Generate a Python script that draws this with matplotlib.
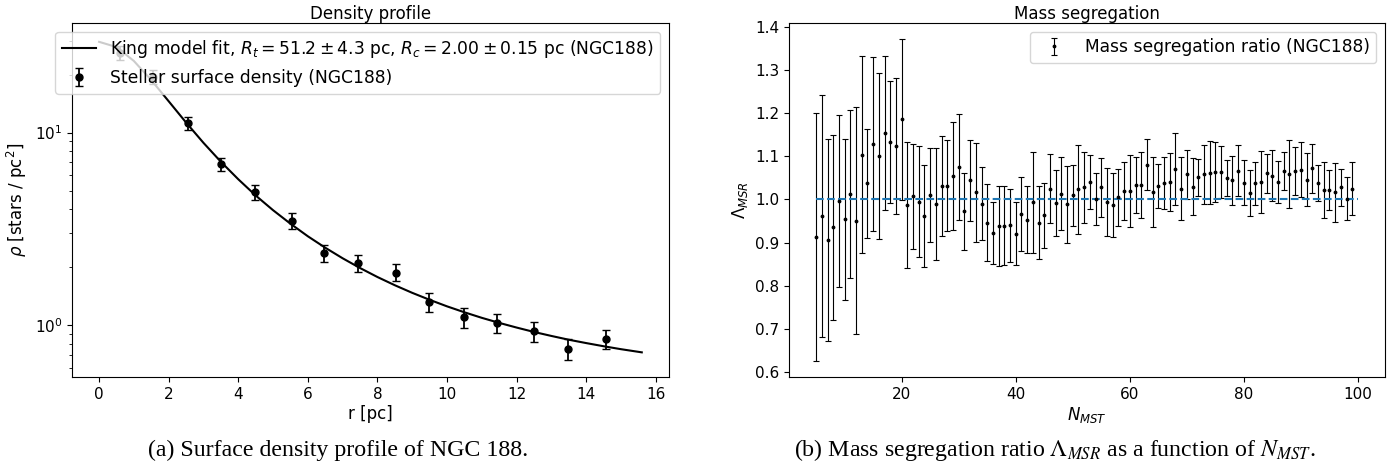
import numpy as np
import matplotlib
matplotlib.use("Agg")
import matplotlib.pyplot as plt

# --- density profile (left) ---
r_obs = [0.59, 1.55, 2.55, 3.51, 4.47, 5.54, 6.47, 7.43, 8.53, 9.49, 10.50, 11.45, 12.49, 13.47, 14.58]
rho_obs = [25.9, 19.4, 11.2, 6.84, 4.90, 3.49, 2.37, 2.11, 1.88, 1.32, 1.10, 1.03, 0.934, 0.753, 0.852]
rho_err = [2.1, 1.6, 0.90, 0.55, 0.43, 0.32, 0.24, 0.21, 0.19, 0.15, 0.13, 0.12, 0.11, 0.093, 0.10]

r_fit = [0.0, 0.5, 1.0, 1.5, 2.0, 2.5, 3.0, 3.5, 4.0, 4.5, 5.0, 5.5, 6.0, 6.5, 7.0, 7.5, 8.0,
         8.5, 9.0, 9.5, 10.0, 10.5, 11.0, 11.5, 12.0, 12.5, 13.0, 13.5, 14.0, 14.5, 15.0, 15.6]
rho_fit = [29.56, 27.78, 23.52, 18.72, 14.54, 11.28, 8.85, 7.06, 5.73, 4.72, 3.96, 3.37, 2.90,
           2.53, 2.23, 1.985, 1.783, 1.616, 1.476, 1.358, 1.256, 1.170, 1.095, 1.031, 0.975,
           0.925, 0.882, 0.843, 0.810, 0.780, 0.753, 0.725]

# --- mass segregation ratio (right) ---
n_mst = np.arange(5, 100)
msr = [0.913, 0.961, 0.905, 0.935, 0.996, 0.954, 1.012, 0.951, 1.103, 1.037,
       1.128, 1.100, 1.153, 1.133, 1.123, 1.185, 0.987, 1.007, 0.995, 0.962,
       1.011, 0.990, 1.031, 1.032, 1.054, 1.075, 0.972, 1.044, 1.016, 0.990,
       0.946, 0.922, 0.939, 0.939, 0.940, 0.921, 0.966, 0.953, 0.993, 0.946,
       0.963, 1.025, 0.991, 1.013, 0.989, 1.009, 1.024, 1.028, 1.040, 1.000,
       1.028, 0.994, 0.986, 1.005, 1.020, 1.019, 1.034, 1.034, 1.080, 1.016,
       1.031, 1.038, 1.041, 1.070, 1.025, 1.058, 1.029, 1.051, 1.058, 1.062,
       1.064, 1.064, 1.049, 1.044, 1.066, 1.039, 1.014, 1.037, 1.041, 1.060,
       1.055, 1.040, 1.065, 1.059, 1.066, 1.069, 1.046, 1.072, 1.038, 1.022,
       1.022, 1.016, 1.028, 1.002, 1.025]
msr_err = [0.287, 0.280, 0.234, 0.215, 0.200, 0.186, 0.195, 0.262, 0.228, 0.127,
           0.202, 0.192, 0.178, 0.141, 0.158, 0.186, 0.146, 0.122, 0.128, 0.118,
           0.109, 0.130, 0.115, 0.105, 0.125, 0.122, 0.089, 0.093, 0.115, 0.084,
           0.089, 0.072, 0.093, 0.091, 0.085, 0.074, 0.085, 0.078, 0.117, 0.085,
           0.076, 0.080, 0.076, 0.084, 0.089, 0.071, 0.103, 0.082, 0.062, 0.060,
           0.068, 0.079, 0.074, 0.066, 0.067, 0.083, 0.065, 0.076, 0.059, 0.081,
           0.050, 0.061, 0.067, 0.084, 0.073, 0.057, 0.066, 0.043, 0.069, 0.072,
           0.069, 0.060, 0.042, 0.056, 0.059, 0.053, 0.053, 0.050, 0.072, 0.045,
           0.059, 0.049, 0.044, 0.079, 0.056, 0.064, 0.061, 0.057, 0.042, 0.065,
           0.046, 0.068, 0.043, 0.049, 0.061]
ref_x = [5, 100]
ref_y = [1.0, 1.0]

plt.rcParams['font.size'] = 12
plt.rcParams['xtick.labelsize'] = 11
plt.rcParams['ytick.labelsize'] = 11

fig = plt.figure(figsize=(14, 4.74), dpi=100)
ax1 = fig.add_axes([0.0514, 0.2046, 0.4264, 0.7468])
ax2 = fig.add_axes([0.5636, 0.2046, 0.4257, 0.7468])

ax1.plot(r_fit, rho_fit, color='k', lw=1.5,
         label=r'King model fit, $R_t = 51.2 \pm 4.3$ pc, $R_c = 2.00 \pm 0.15$ pc (NGC188)')
ax1.errorbar(r_obs, rho_obs, yerr=rho_err, fmt='ko', ms=5, capsize=3, elinewidth=1.3,
             label='Stellar surface density (NGC188)')
ax1.set_yscale('log')
ax1.set_ylim(0.54, 37)
ax1.set_xlabel('r [pc]', labelpad=2)
ax1.set_ylabel(r'$\rho$ [stars / pc$^2$]')
ax1.set_title('Density profile', fontsize=12, pad=3)
ax1.legend(loc='upper right', fontsize=12.3)

ax2.errorbar(n_mst, msr, yerr=msr_err, fmt='k.', ms=3.5, capsize=2, elinewidth=0.8,
             capthick=0.8, label='Mass segregation ratio (NGC188)')
ax2.plot(ref_x, ref_y, '--', color='tab:blue', lw=1.5)
ax2.set_xlabel(r'$N_{MST}$', labelpad=2)
ax2.set_ylabel(r'$\Lambda_{MSR}$')
ax2.set_title('Mass segregation', fontsize=12, pad=3)
ax2.legend(loc='upper right', fontsize=12.3)

fig.text(0.2415, 0.05, '(a) Surface density profile of NGC 188.', ha='center', va='center',
         family='Liberation Serif', fontsize=17.2)
fig.text(0.7536, 0.05, r'(b) Mass segregation ratio $\Lambda_{MSR}$ as a function of $N_{MST}$.',
         ha='center', va='center', family='Liberation Serif', fontsize=17.2,
         math_fontfamily='stix')

fig.savefig('out.png', dpi=100)
